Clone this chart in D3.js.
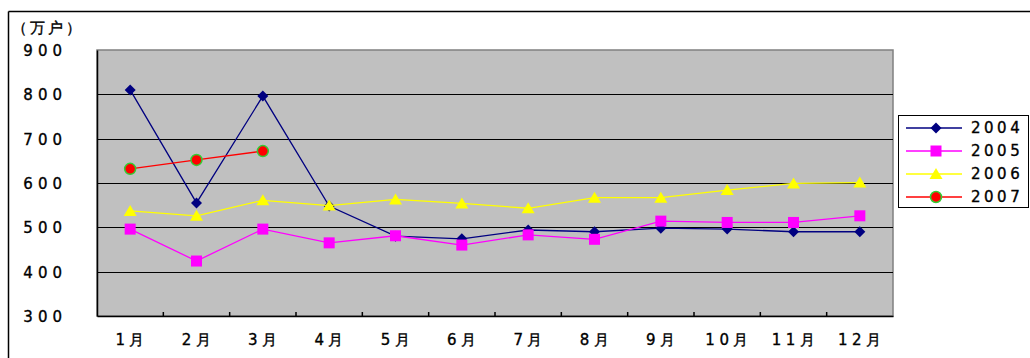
<!DOCTYPE html>
<html><head><meta charset="utf-8">
<script src="https://cdn.jsdelivr.net/npm/d3@7"></script>
<style>
html,body{margin:0;padding:0;background:#fff;}
svg{display:block;}
text{font-family:"DejaVu Sans",sans-serif;fill:#000;stroke:#000;stroke-width:0.35px;}
</style></head>
<body><svg id="c" width="1030" height="358"></svg>
<script>
const months = ["1月","2月","3月","4月","5月","6月","7月","8月","9月","10月","11月","12月"];
const yTicks = [300,400,500,600,700,800,900];
const s2004 = [810,555,796,548,480,474,494,490,498,496,490,490];
const s2005 = [496,424,496,465,481,460,483,473,514,511,511,526];
const s2006 = [537,526,561,549,563,554,543,567,567,584,599,601];
const s2007 = [632,652,672];
const seriesNames = ["2004","2005","2006","2007"];

const svg = d3.select("#c");
const L=97, R=893, T=50, B=316;
const x = d3.scaleBand().domain(months).range([L,R]);
const y = d3.scaleLinear().domain([300,900]).range([B,T]);

// outer frame
svg.append("line").attr("x1",8.5).attr("x2",1030).attr("y1",11.5).attr("y2",11.5).attr("stroke","#000").attr("stroke-width",1.5);
svg.append("line").attr("x1",8.5).attr("x2",8.5).attr("y1",11.5).attr("y2",358).attr("stroke","#000").attr("stroke-width",1.5);

// plot bg
svg.append("rect").attr("x",L).attr("y",T).attr("width",R-L).attr("height",B-T).attr("fill","#c0c0c0").attr("stroke","#808080").attr("stroke-width",1.5);

// gridlines
svg.append("g").selectAll("line").data(yTicks.filter(d=>d>300 && d<900)).join("line")
  .attr("x1",L).attr("x2",R).attr("y1",d=>Math.round(y(d))+0.5).attr("y2",d=>Math.round(y(d))+0.5)
  .attr("stroke","#000").attr("stroke-width",1);

// axes
const yAxis = d3.axisLeft(y).tickValues(yTicks).tickSize(0).tickFormat(d3.format("d"));
const gy = svg.append("g").attr("transform",`translate(${L},0)`).call(yAxis);
gy.select(".domain").attr("stroke","#000").attr("stroke-width",1.5);
gy.selectAll("text").attr("x",-30).attr("dy","0.36em").attr("text-anchor","end").attr("font-size",15).attr("letter-spacing","5px");

const xAxis = d3.axisBottom(x).tickSize(0);
const gx = svg.append("g").attr("transform",`translate(0,${B})`).call(xAxis);
gx.select(".domain").attr("stroke","#000").attr("stroke-width",1.5);
gx.selectAll("text").attr("dy",0).attr("y",29).attr("dx","2px").attr("font-size",15).attr("letter-spacing","4.5px");
// tick marks between categories
svg.append("g").selectAll("line").data(months.slice(1)).join("line")
  .attr("x1",d=>x(d)).attr("x2",d=>x(d)).attr("y1",B).attr("y2",B-4).attr("stroke","#000").attr("stroke-width",1.5);

// unit label
svg.append("text").attr("x",12).attr("y",33).attr("font-size",15).attr("letter-spacing","3px").text("（万户）");

const cx = d=>x(d)+x.bandwidth()/2;
const line = d3.line().x((d,i)=>cx(months[i])).y(d=>y(d));

function drawSeries(data,color,marker){
  svg.append("path").datum(data).attr("d",line).attr("fill","none").attr("stroke",color).attr("stroke-width",1.3);
  const g=svg.append("g");
  data.forEach((v,i)=>marker(g,cx(months[i]),y(v)));
}
const diamond=(g,X,Y)=>g.append("path").attr("d","M0,-5.5L5.5,0L0,5.5L-5.5,0Z").attr("transform",`translate(${X},${Y})`).attr("fill","#000080");
const square=(g,X,Y)=>g.append("rect").attr("x",X-5.5).attr("y",Y-5.5).attr("width",11).attr("height",11).attr("fill","#ff00ff");
const tri=(g,X,Y)=>g.append("path").attr("d","M0,-6L6.5,5L-6.5,5Z").attr("transform",`translate(${X},${Y})`).attr("fill","#ffff00");
const circ=(g,X,Y)=>g.append("circle").attr("cx",X).attr("cy",Y).attr("r",5.5).attr("fill","#ff0000").attr("stroke","#33cc33").attr("stroke-width",1.5);

drawSeries(s2004,"#000080",diamond);
drawSeries(s2005,"#ff00ff",square);
drawSeries(s2006,"#ffff00",tri);
drawSeries(s2007,"#ff0000",circ);

// legend
const lg = svg.append("g");
lg.append("rect").attr("x",898.5).attr("y",115.5).attr("width",130).attr("height",92).attr("fill","#fff").attr("stroke","#000").attr("stroke-width",1);
const cols=["#000080","#ff00ff","#ffff00","#ff0000"];
const marks=[diamond,square,tri,circ];
seriesNames.forEach((n,i)=>{
  const yy=128+i*23;
  lg.append("line").attr("x1",906).attr("x2",962).attr("y1",yy).attr("y2",yy).attr("stroke",cols[i]).attr("stroke-width",1.3);
  marks[i](lg,936,yy);
  lg.append("text").attr("x",971).attr("y",yy).attr("dy","0.36em").attr("font-size",15).attr("letter-spacing","3.5px").text(n);
});
</script></body></html>
